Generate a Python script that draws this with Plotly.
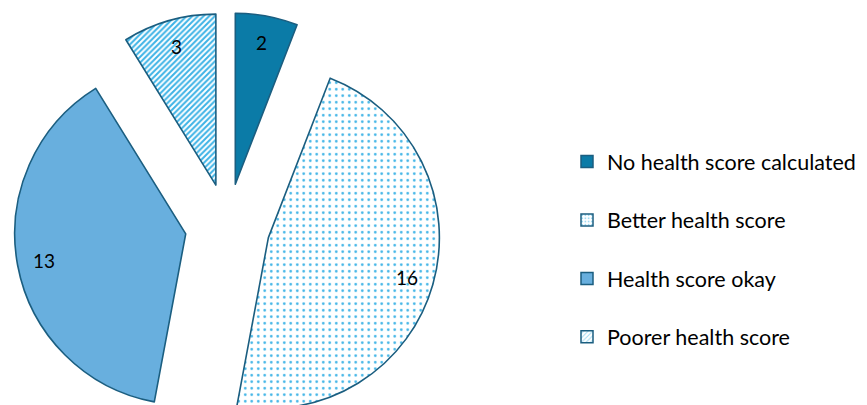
import math
import plotly.graph_objects as go

# ---- data ----
categories = ["No health score calculated", "Better health score", "Health score okay", "Poorer health score"]
counts = [2, 16, 13, 3]

# ---- styles ----
fill_colors = ["#0B7BA7", "#3DB3E6", "#68AFDE", "#3DB3E6"]
bg_colors = ["#0B7BA7", "#FFFFFF", "#68AFDE", "#FFFFFF"]
pattern_shapes = ["", ".", "", "/"]
pattern_sizes = [6, 6.5, 6, 4]
pattern_solidity = [0.3, 0.13, 0.3, 0.5]
outline = "#1B5E80"
FONT = "Lato"

W, H = 867, 405
OFF = 8                     # page body margin offset (px)
CX, CY = 227.5 - OFF, 226.0 - OFF   # pie centre in figure px
R = 171.0                   # radius (px)
EXPLODE = 42.5              # explosion distance (px)
LABEL_FR = 0.845

total = sum(counts)
fig = go.Figure()
annotations = []
cum = 0.0
for i, (name, v) in enumerate(zip(categories, counts)):
    a0 = cum / total * 360.0
    mid = math.radians(a0 + v / total * 180.0)
    vx = CX + EXPLODE * math.sin(mid)
    vy = CY - EXPLODE * math.cos(mid)
    dom_x = [max(0, (vx - R) / W), min(1, (vx + R) / W)]
    dom_y = [max(0, 1 - (vy + R) / H), min(1, 1 - (vy - R) / H)]
    fig.add_trace(go.Pie(
        values=[v, total - v],
        labels=[name, name + " (rest)"],
        sort=False,
        direction="clockwise",
        rotation=a0,
        domain=dict(x=dom_x, y=dom_y),
        marker=dict(
            colors=[fill_colors[i], "rgba(0,0,0,0)"],
            line=dict(color=[outline, "rgba(0,0,0,0)"], width=[1.6, 0]),
            pattern=dict(shape=[pattern_shapes[i], ""],
                         fgcolor=[fill_colors[i], "rgba(0,0,0,0)"],
                         bgcolor=[bg_colors[i], "rgba(0,0,0,0)"],
                         size=pattern_sizes[i], solidity=pattern_solidity[i]),
        ),
        textinfo="none",
        hoverinfo="skip",
        showlegend=False,
    ))
    lx = vx + LABEL_FR * R * math.sin(mid)
    ly = vy - LABEL_FR * R * math.cos(mid)
    annotations.append(dict(x=lx / W, y=1 - ly / H, xref="paper", yref="paper",
                            text=str(v), showarrow=False,
                            font=dict(family=FONT, size=19, color="#000000"),
                            xanchor="center", yanchor="middle"))
    # legend entry
    fig.add_trace(go.Bar(
        x=[None], y=[None], name=name, legendgroup=name,
        marker=dict(color=fill_colors[i],
                    line=dict(color=outline, width=1.5),
                    pattern=dict(shape=pattern_shapes[i], fgcolor=fill_colors[i],
                                 bgcolor=bg_colors[i], size=4, solidity=0.3)),
        showlegend=True,
    ))
    cum += v

fig.update_layout(
    width=W, height=H,
    margin=dict(l=0, r=0, t=0, b=0),
    paper_bgcolor="white", plot_bgcolor="rgba(0,0,0,0)",
    xaxis=dict(visible=False), yaxis=dict(visible=False),
    annotations=annotations,
    legend=dict(x=559 / W, xanchor="left", y=1 - 241.5 / H, yanchor="middle",
                traceorder="grouped", tracegroupgap=27.5,
                font=dict(family=FONT, size=21.5, color="#000000"),
                bgcolor="rgba(0,0,0,0)"),
    font=dict(family=FONT),
)

fig.write_html("out.html")
